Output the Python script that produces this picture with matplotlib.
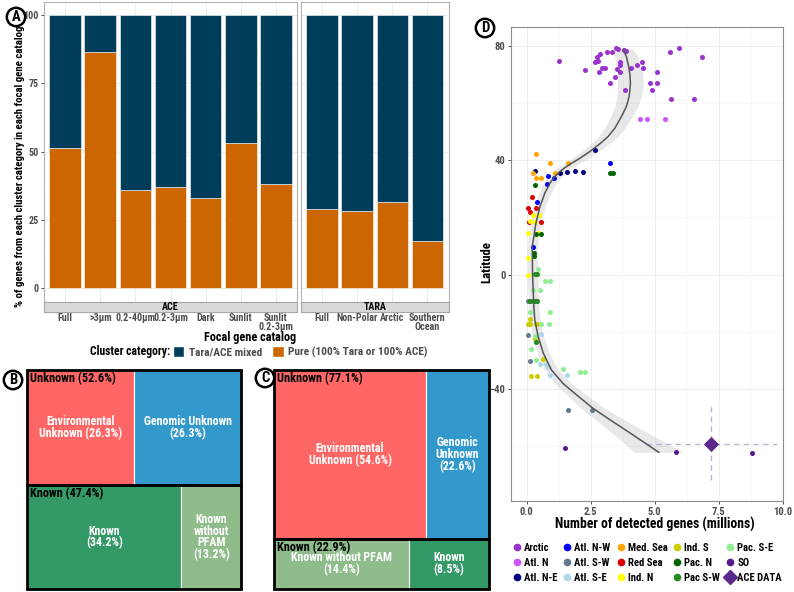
import matplotlib.pyplot as plt
from matplotlib import font_manager
from matplotlib.patches import Rectangle, Patch
from matplotlib.lines import Line2D

# pick a condensed bold font if the machine has one (reference uses a narrow bold face)
narrow = [f for f in font_manager.fontManager.ttflist
          if f.stretch in ('condensed', 'semi-condensed', 'extra-condensed')
          or 'Condensed' in f.name or 'Narrow' in f.name]
chosen = None
for p in ['Roboto Condensed', 'Liberation Sans Narrow', 'Noto Sans', 'Open Sans', 'DejaVu Sans', 'Roboto', 'Lato', 'Inter']:
    hits = [f for f in narrow if f.name.startswith(p)]
    if hits:
        chosen = hits[0]
        break
if chosen is None and narrow:
    chosen = narrow[0]

if chosen is not None:
    plt.rcParams['font.family'] = [chosen.name, 'DejaVu Sans']
    if chosen.stretch in ('condensed', 'semi-condensed', 'extra-condensed'):
        plt.rcParams['font.stretch'] = chosen.stretch
    k = 1.0
else:
    plt.rcParams['font.family'] = ['Liberation Sans', 'DejaVu Sans']
    k = 0.86
plt.rcParams['font.weight'] = 'bold'

W, H = 794, 592

def fx(px):
    return px / W

def fy(py):
    return 1 - py / H

# ---------------- panel A data ----------------
ace_cats = ['Full', '>3µm', '0.2-40µm', '0.2-3µm', 'Dark', 'Sunlit', 'Sunlit\n0.2-3µm']
ace_pure = [51.3, 86.6, 36.0, 37.0, 33.0, 53.2, 38.0]
tara_cats = ['Full', 'Non-Polar', 'Arctic', 'Southern\nOcean']
tara_pure = [28.8, 28.4, 31.7, 17.2]

col_mixed = '#003D5B'
col_pure = '#CC6600'

# ---------------- panel B / C data ----------------
b_groups = ['Unknown', 'Known']
b_group_pct = [52.6, 47.4]
b_sub_pct = [[26.3, 26.3], [34.2, 13.2]]
b_sub_lbl = [['Environmental\nUnknown (26.3%)', 'Genomic Unknown\n(26.3%)'],
             ['Known\n(34.2%)', 'Known\nwithout\nPFAM\n(13.2%)']]
b_sub_col = [['#FF6666', '#3399CC'], ['#339966', '#8FBC8B']]

c_groups = ['Unknown', 'Known']
c_group_pct = [77.1, 22.9]
c_sub_pct = [[54.6, 22.6], [14.4, 8.5]]
c_sub_lbl = [['Environmental\nUnknown (54.6%)', 'Genomic\nUnknown\n(22.6%)'],
             ['Known without PFAM\n(14.4%)', 'Known\n(8.5%)']]
c_sub_col = [['#FF6666', '#3399CC'], ['#8FBC8B', '#339966']]

# ---------------- panel D data ----------------
arctic_x = [1.27, 2.28, 2.66, 2.76, 2.85, 2.80, 2.82, 2.95, 3.07, 3.13, 3.34, 3.50, 3.56, 3.78,
            3.86, 3.63, 3.63, 3.52, 3.64, 3.45, 3.25, 3.83, 4.06, 4.30, 4.50, 4.55, 5.07, 4.82,
            5.09, 4.90, 5.58, 5.95, 5.62, 6.52, 6.83]
arctic_lat = [74.7, 71.5, 74.3, 76.0, 77.1, 74.7, 71.0, 72.4, 72.4, 77.9, 77.9, 79.1, 78.8, 78.4,
              78.2, 74.3, 73.4, 71.8, 70.9, 69.0, 67.0, 64.6, 72.3, 73.2, 74.2, 72.3, 70.9, 67.0,
              67.0, 64.6, 77.9, 79.2, 61.4, 61.4, 76.0]
atl_n_x = [4.44, 4.69, 5.39]
atl_n_lat = [54.4, 54.4, 54.4]
atl_ne_x = [2.66, 0.32, 1.30, 1.57, 1.88, 2.20]
atl_ne_lat = [43.5, 36.4, 35.7, 35.9, 36.4, 36.0]
atl_nw_x = [3.24, 0.82, 1.06, 0.80, 0.39, 0.23]
atl_nw_lat = [39.0, 34.5, 33.9, 31.6, 25.4, 9.7]
atl_sw_x = [0.06, 0.04, 0.13, 1.61, 2.55]
atl_sw_lat = [-9.1, -21.0, -30.3, -47.4, -47.4]
atl_se_x = [0.56, 0.53, 0.74, 0.82, 0.92, 1.58]
atl_se_lat = [-20.7, -31.3, -31.3, -32.5, -35.2, -35.2]
med_x = [0.36, 0.93, 1.63, 0.25, 1.10, 0.36, 0.57]
med_lat = [42.1, 39.2, 39.2, 35.7, 35.6, 33.8, 33.8]
red_x = [0.22, 0.06, 0.35, 0.15, 0.09, 0.57]
red_lat = [27.0, 23.2, 23.2, 21.8, 18.4, 18.4]
ind_n_x = [0.23, 0.48, 0.13, 0.34, 0.05, 0.48, 0.06, 0.04]
ind_n_lat = [20.7, 20.7, 18.6, 18.4, 14.4, 14.4, 5.8, 0.0]
ind_s_x = [0.19, 0.12, 0.07, 0.12, 0.35, 0.39, 0.34, 0.63, 0.18, 0.39]
ind_s_lat = [-9.4, -15.6, -17.2, -17.2, -17.2, -17.4, -22.6, -29.7, -35.4, -35.4]
pac_n_x = [3.24, 3.36, 0.32, 0.37, 0.56, 0.30, 0.30]
pac_n_lat = [35.4, 35.4, 31.5, 14.1, 14.1, 7.4, 6.5]
pac_sw_x = [0.34, 0.41, 0.15, 0.25, 0.33, 0.40, 0.36]
pac_sw_lat = [0.1, 0.1, -9.1, -9.1, -9.1, -9.1, -23.6]
pac_se_x = [0.43, 0.71, 0.91, 0.52, 0.26, 0.14, 0.92, 0.57, 0.89, 0.34, 0.18, 0.36, 1.42, 2.10, 2.27]
pac_se_lat = [1.8, -2.1, -2.1, -5.4, -5.4, -13.1, -13.1, -17.2, -17.2, -21.4, -26.1, -29.9, -33.1,
              -34.2, -34.2]
so_x = [1.48, 5.84, 8.81]
so_lat = [-60.5, -62.2, -62.5]

ace_x, ace_lat = 7.18, -59.2
ace_x_lo, ace_x_hi = 4.67, 9.77
ace_lat_lo, ace_lat_hi = -71.9, -45.3

# smoother (x as a function of latitude) with its band half-width
curve_lat = [78.8, 76.3, 72.8, 69.9, 66.9, 62.3, 58.8, 55.3, 51.2, 48.3, 45.7, 43.0, 40.7, 38.9,
             37.4, 36.0, 34.3, 32.0, 28.5, 23.8, 17.9, 12.1, 9.7, 0.4, -11.2, -15.9, -21.7, -27.5,
             -33.4, -38.1, -42.1, -46.8, -51.5, -56.1, -62.2]
curve_x = [3.76, 3.89, 3.98, 4.03, 4.05, 4.00, 3.89, 3.70, 3.44, 3.18, 2.85, 2.46, 2.08, 1.75,
           1.49, 1.30, 1.10, 0.91, 0.71, 0.52, 0.36, 0.26, 0.22, 0.23, 0.28, 0.32, 0.45, 0.65,
           0.97, 1.42, 1.95, 2.59, 3.37, 4.15, 5.16]
ribbon_hw = [0.38, 0.45, 0.5, 0.5, 0.5, 0.47, 0.45, 0.42, 0.4, 0.38, 0.35, 0.33, 0.31, 0.29,
             0.28, 0.27, 0.26, 0.25, 0.23, 0.21, 0.2, 0.2, 0.2, 0.2, 0.2, 0.2, 0.21, 0.23,
             0.27, 0.32, 0.38, 0.46, 0.57, 0.72, 0.95]

regions = [
    ('Arctic', arctic_x, arctic_lat, '#9A32CD'),
    ('Atl. N', atl_n_x, atl_n_lat, '#CC55FF'),
    ('Atl. N-E', atl_ne_x, atl_ne_lat, '#000080'),
    ('Atl. N-W', atl_nw_x, atl_nw_lat, '#0000FF'),
    ('Atl. S-W', atl_sw_x, atl_sw_lat, '#607B8B'),
    ('Atl. S-E', atl_se_x, atl_se_lat, '#ADD8E6'),
    ('Med. Sea', med_x, med_lat, '#FFA500'),
    ('Red Sea', red_x, red_lat, '#DD0000'),
    ('Ind. N', ind_n_x, ind_n_lat, '#FFFF00'),
    ('Ind. S', ind_s_x, ind_s_lat, '#CDCD00'),
    ('Pac. N', pac_n_x, pac_n_lat, '#006400'),
    ('Pac S-W', pac_sw_x, pac_sw_lat, '#228B22'),
    ('Pac. S-E', pac_se_x, pac_se_lat, '#90EE90'),
    ('SO', so_x, so_lat, '#551A8B'),
]
ace_col = '#5B2A8C'

grey_txt = '#4D4D4D'
border = '#B3B3B3'

fig = plt.figure(figsize=(W / 100, H / 100), dpi=100)

# ---------------- panel A ----------------
a_top, a_bot = 1.5, 301.7
strip_h = 10


def bar_facet(left_px, width_px, cats, pure, strip_name, show_y):
    ax = fig.add_axes([fx(left_px), fy(a_bot), width_px / W, (a_bot - a_top) / H])
    pos = list(range(1, len(cats) + 1))
    mixed = [100 - p for p in pure]
    ax.bar(pos, pure, width=0.9, color=col_pure, edgecolor='white', lw=0.4, zorder=2)
    ax.bar(pos, mixed, bottom=pure, width=0.9, color=col_mixed, edgecolor='white', lw=0.4, zorder=2)
    ax.set_xlim(0.4, len(cats) + 0.6)
    ax.set_ylim(-5, 105)
    ax.set_yticks([0, 25, 50, 75, 100])
    ax.set_yticks([12.5, 37.5, 62.5, 87.5], minor=True)
    ax.set_xticks(pos)
    ax.set_xticklabels(cats, linespacing=0.9)
    ax.tick_params(axis='x', length=0, pad=8.2, labelsize=7.2 * k, labelcolor=grey_txt)
    ax.tick_params(axis='y', which='minor', length=0)
    if show_y:
        ax.tick_params(axis='y', length=2.5, width=0.6, color='#333333', labelsize=7.2 * k,
                       labelcolor=grey_txt, pad=1.5)
    else:
        ax.tick_params(axis='y', length=0, labelleft=False)
    ax.grid(True, which='major', color='#EBEBEB', lw=0.6)
    ax.grid(True, which='minor', axis='y', color='#F3F3F3', lw=0.4)
    ax.set_axisbelow(True)
    for s in ax.spines.values():
        s.set_color(border)
        s.set_linewidth(0.8)
    sax = fig.add_axes([fx(left_px), fy(a_bot + strip_h), width_px / W, strip_h / H])
    sax.set_facecolor('#D9D9D9')
    sax.set_xticks([])
    sax.set_yticks([])
    for s in sax.spines.values():
        s.set_color('#A6A6A6')
        s.set_linewidth(0.8)
    sax.text(0.5, 0.5, strip_name, ha='center', va='center', fontsize=7.2 * k, transform=sax.transAxes)
    return ax


bar_facet(44, 253, ace_cats, ace_pure, 'ACE', True)
bar_facet(301, 147.5, tara_cats, tara_pure, 'TARA', False)

fig.text(fx(20), fy(166), '% of genes from each cluster category in each focal gene catalog',
         rotation=90, ha='center', va='center', fontsize=7.8 * k)
fig.text(fx(250), fy(338), 'Focal gene catalog', ha='center', va='center', fontsize=8.8 * k)
fig.text(fx(90), fy(352), 'Cluster category:', ha='left', va='center', fontsize=8.4 * k)
fig.legend(handles=[Patch(fc=col_mixed, ec='white', label='Tara/ACE mixed'),
                    Patch(fc=col_pure, ec='white', label='Pure (100% Tara or 100% ACE)')],
           loc='center left', bbox_to_anchor=(fx(173), fy(352)), ncol=2, frameon=False,
           fontsize=8.2 * k, handlelength=1.0, handleheight=1.1, handletextpad=0.4,
           columnspacing=0.9, borderpad=0, borderaxespad=0, labelcolor=grey_txt)


# ---------------- panels B / C ----------------
def treemap(left_px, width_px, groups, group_pct, sub_pct, sub_lbl, sub_col):
    ax = fig.add_axes([fx(left_px), fy(589), width_px / W, 219 / H])
    ax.set_xlim(0, 1)
    ax.set_ylim(0, 1)
    ax.axis('off')
    total = sum(group_pct)
    top = 1.0
    for g, gp, sp, sl, sc in zip(groups, group_pct, sub_pct, sub_lbl, sub_col):
        h = gp / total
        y0 = top - h
        left = 0.0
        for p, lbl, c in zip(sp, sl, sc):
            w = p / sum(sp)
            ax.add_patch(Rectangle((left, y0), w, h, fc=c, ec='white', lw=0.8, clip_on=False))
            ax.text(left + w / 2, y0 + h / 2, lbl, ha='center', va='center', color='white',
                    fontsize=8.6 * k, linespacing=0.88)
            left += w
        ax.add_patch(Rectangle((0, y0), 1, h, fill=False, ec='black', lw=2, clip_on=False, zorder=5))
        ax.text(0.012, top - 0.008, f'{g} ({gp:.1f}%)', ha='left', va='top', fontsize=8.8 * k,
                color='black', zorder=6)
        top = y0
    return ax


treemap(27, 214, b_groups, b_group_pct, b_sub_pct, b_sub_lbl, b_sub_col)
treemap(274, 215, c_groups, c_group_pct, c_sub_pct, c_sub_lbl, c_sub_col)

# ---------------- panel D ----------------
axd = fig.add_axes([fx(511), fy(501), 272 / W, 474 / H])
axd.set_xlim(-0.61, 10.0)
axd.set_ylim(-79.2, 86.6)
axd.set_xticks([0, 2.5, 5, 7.5, 10])
axd.set_xticklabels(['0.0', '2.5', '5.0', '7.5', '10.0'])
axd.set_xticks([1.25, 3.75, 6.25, 8.75], minor=True)
axd.set_yticks([-40, 0, 40, 80])
axd.set_yticks([-60, -20, 20, 60], minor=True)
axd.tick_params(which='major', length=2.5, width=0.6, color='#333333', labelsize=7.6 * k,
                labelcolor=grey_txt, pad=1.5)
axd.tick_params(which='minor', length=0)
axd.grid(True, which='major', color='#EBEBEB', lw=0.6)
axd.grid(True, which='minor', color='#F3F3F3', lw=0.4)
axd.set_axisbelow(True)
for s in axd.spines.values():
    s.set_color('#8C8C8C')
    s.set_linewidth(0.8)

lo = [x - w for x, w in zip(curve_x, ribbon_hw)]
hi = [x + w for x, w in zip(curve_x, ribbon_hw)]
axd.fill_betweenx(curve_lat, lo, hi, color='#BEBEBE', alpha=0.35, lw=0, zorder=1)

axd.plot([ace_x_lo, ace_x_hi], [ace_lat, ace_lat], ls=(0, (4, 3)), color='#BDAEDB', lw=1, zorder=2)
axd.plot([ace_x, ace_x], [ace_lat_lo, ace_lat_hi], ls=(0, (4, 3)), color='#BDAEDB', lw=1, zorder=2)

handles = []
for name, xs, ys, c in regions:
    axd.scatter(xs, ys, s=13, color=c, lw=0, zorder=3)
    handles.append(Line2D([], [], marker='o', ls='', color=c, markersize=4.5, label=name))
axd.scatter([ace_x], [ace_lat], marker='D', s=60, color=ace_col, lw=0, zorder=4)
handles.append(Line2D([], [], marker='D', ls='', color=ace_col, markersize=7, label='ACE DATA'))

axd.plot(curve_x, curve_lat, color='#555555', lw=1.1, zorder=5)

fig.text(fx(487), fy(262), 'Latitude', rotation=90, ha='center', va='center', fontsize=9.2 * k)
fig.text(fx(655), fy(524), 'Number of detected genes (millions)', ha='center', va='center',
         fontsize=9.8 * k)
fig.legend(handles=handles, loc='upper left', bbox_to_anchor=(fx(513), fy(543)), ncol=5,
           frameon=False, fontsize=7.7 * k, handlelength=0.7, handletextpad=0.3, columnspacing=0.6,
           labelspacing=0.45, borderpad=0, borderaxespad=0)

# ---------------- panel letters ----------------
for letter, px, py in [('A', 16, 17), ('B', 13, 380), ('C', 265, 378), ('D', 485, 28)]:
    fig.text(fx(px), fy(py), letter, ha='center', va='center', fontsize=10.5,
             bbox=dict(boxstyle='circle,pad=0.15', fc='white', ec='black', lw=1.8))

fig.savefig('out.png', dpi=100)
